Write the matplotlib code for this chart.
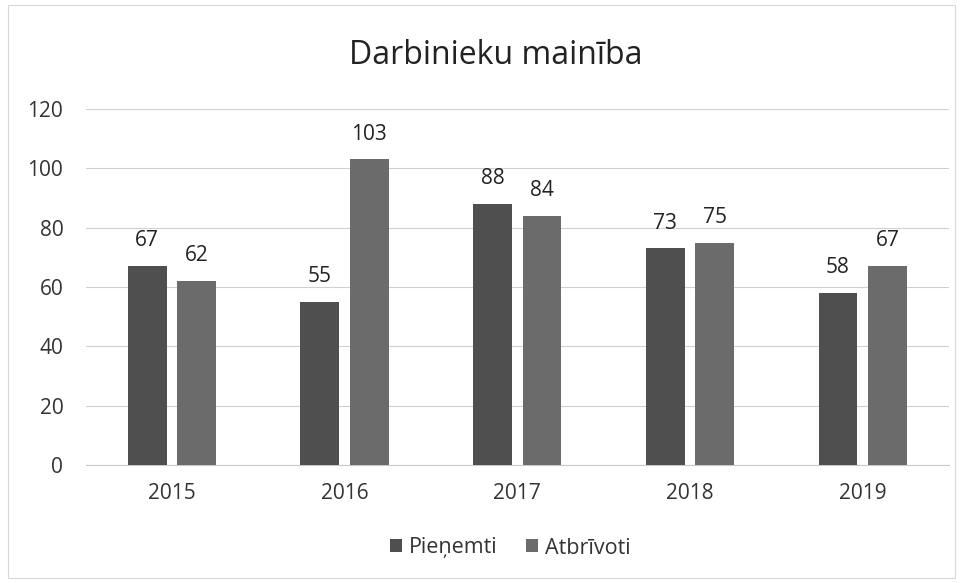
import matplotlib
matplotlib.use("Agg")
import matplotlib.pyplot as plt
import numpy as np
from matplotlib.patches import Rectangle

plt.rcParams['font.family'] = ['Open Sans', 'DejaVu Sans']

years = ["2015", "2016", "2017", "2018", "2019"]
pienemti = [67, 55, 88, 73, 58]
atbrivoti = [62, 103, 84, 75, 67]
series_names = ["Pieņemti", "Atbrīvoti"]
title = "Darbinieku mainība"

fig = plt.figure(figsize=(9.63, 5.83), dpi=100)
ax = fig.add_axes([85.5 / 963, 1 - 465 / 583, 863.5 / 963, 356 / 583])

x = np.arange(len(years))
w = 0.225
off = 0.143
c1 = "#4f4f4f"
c2 = "#6b6b6b"
b1 = ax.bar(x - off, pienemti, w, color=c1, label=series_names[0], zorder=3)
b2 = ax.bar(x + off, atbrivoti, w, color=c2, label=series_names[1], zorder=3)

for bars, vals in ((b1, pienemti), (b2, atbrivoti)):
    for b, v in zip(bars, vals):
        ax.text(b.get_x() + b.get_width() / 2, v + 5, str(v), ha="center", va="bottom",
                fontsize=15, color="#222222")

ax.set_xlim(-0.5, len(years) - 0.5)
ax.set_ylim(0, 120)
ax.set_yticks(range(0, 121, 20))
ax.set_xticks(x)
ax.set_xticklabels(years)
ax.tick_params(axis="both", length=0, labelsize=15, colors="#333333")
ax.tick_params(axis="x", pad=13)
ax.tick_params(axis="y", pad=16)
ax.grid(axis="y", color="#d0d0d0", linewidth=0.8, zorder=0)
for s in ["top", "right", "left"]:
    ax.spines[s].set_visible(False)
ax.spines["bottom"].set_color("#c8c8c8")

fig.text(0.515, 1 - 64 / 583, title, ha="center", va="baseline", fontsize=23, color="#222222")

fig.legend(handles=[b1, b2], labels=series_names, loc="center", bbox_to_anchor=(0.53, 1 - 548 / 583),
           ncol=2, frameon=False, fontsize=15.5, handlelength=0.55, handleheight=0.55,
           columnspacing=1.3, handletextpad=0.35, labelcolor="#333333")

fig.patches.append(Rectangle((0.008, 0.008), 0.984, 0.984, transform=fig.transFigure,
                             fill=False, edgecolor="#d8d8d8", linewidth=0.8))

fig.savefig("out.png", dpi=100, facecolor="white")
